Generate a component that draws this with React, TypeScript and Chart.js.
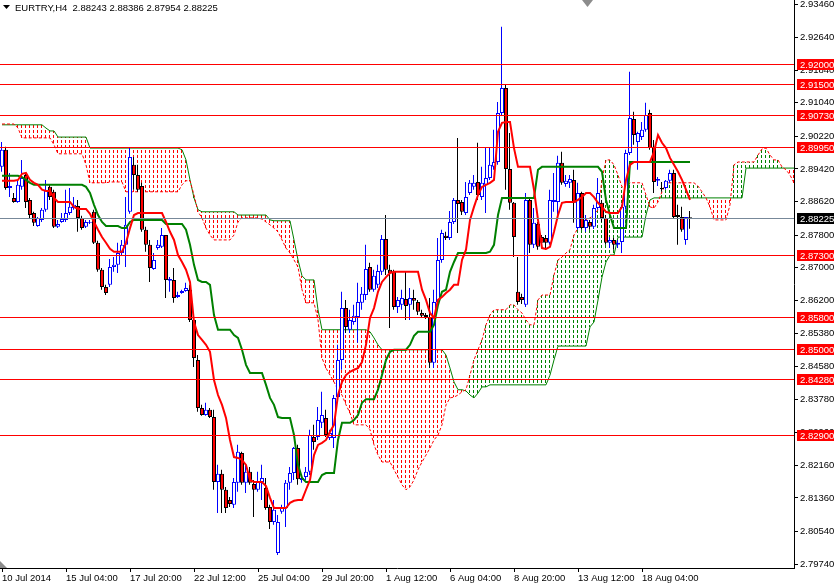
import React, { useEffect, useRef } from 'react';
import { Chart, registerables } from 'chart.js';

Chart.register(...registerables);

const FONT = "'Liberation Sans', Arial, sans-serif";

const symbolTitle = 'EURTRY,H4';
const headerOHLC = ['2.88243', '2.88386', '2.87954', '2.88225'];

const xTickIndex = [0, 16, 32, 48, 64, 80, 96, 112, 128, 144, 160];
const xTickLabels = ['10 Jul 2014', '15 Jul 04:00', '17 Jul 20:00', '22 Jul 12:00', '25 Jul 04:00', '29 Jul 20:00', '1 Aug 12:00', '6 Aug 04:00', '8 Aug 20:00', '13 Aug 12:00', '18 Aug 04:00'];
const yTickValues = [2.9346, 2.9264, 2.9184, 2.9104, 2.9022, 2.8942, 2.8862, 2.878, 2.87, 2.862, 2.8538, 2.8458, 2.8378, 2.8296, 2.8216, 2.8136, 2.8054, 2.7974];
const levelLines = [2.92, 2.915, 2.9073, 2.8995, 2.873, 2.858, 2.85, 2.8428, 2.829];
const bidPrice = 2.88225;

const open = [
  2.8947, 2.8989, 2.8895, 2.8871, 2.8861, 2.8898, 2.8927, 2.8866, 2.8834, 2.8802,
  2.8817, 2.8842, 2.8898, 2.8886, 2.8800, 2.8812, 2.8817, 2.8834, 2.8846, 2.8851,
  2.8822, 2.8800, 2.8810, 2.8837, 2.8761, 2.8695, 2.8653, 2.8658, 2.8702, 2.8707,
  2.8736, 2.8756, 2.8837, 2.8952, 2.8927, 2.8900, 2.8793, 2.8756, 2.8697, 2.8748,
  2.8751, 2.8780, 2.8668, 2.8670, 2.8628, 2.8638, 2.8643, 2.8646, 2.8572, 2.8474,
  2.8356, 2.8339, 2.8352, 2.8334, 2.8175, 2.8195, 2.8156, 2.8131, 2.8119, 2.8173,
  2.8246, 2.8173, 2.8200, 2.8170, 2.8156, 2.8175, 2.8160, 2.8114, 2.8077, 2.8001,
  2.8102, 2.8111, 2.8173, 2.8197, 2.8258, 2.8180, 2.8187, 2.8200, 2.8285, 2.8285,
  2.8320, 2.8332, 2.8283, 2.8283, 2.8383, 2.8474, 2.8601, 2.8548, 2.8567, 2.8579,
  2.8614, 2.8633, 2.8702, 2.8646, 2.8658, 2.8690, 2.8770, 2.8695, 2.8690, 2.8604,
  2.8609, 2.8623, 2.8609, 2.8626, 2.8616, 2.8589, 2.8584, 2.8579, 2.8467, 2.8616,
  2.8719, 2.8778, 2.8773, 2.8812, 2.8866, 2.8861, 2.8834, 2.8883, 2.8898, 2.8910,
  2.8873, 2.8903, 2.8920, 2.8947, 2.8959, 2.9079, 2.9140, 2.8942, 2.8859, 2.8641,
  2.8628, 2.8609, 2.8866, 2.8756, 2.8807, 2.8775, 2.8773, 2.8761, 2.8861, 2.8861,
  2.8957, 2.8905, 2.8908, 2.8915, 2.8797, 2.8883, 2.8797, 2.8812, 2.8800, 2.8846,
  2.8859, 2.8822, 2.8761, 2.8768, 2.8756, 2.8763, 2.8849, 2.8981, 2.9064, 2.9008,
  2.9020, 2.9038, 2.9079, 2.8996, 2.8913, 2.8895, 2.8895, 2.8913, 2.8932, 2.8829,
  2.8824, 2.8768, 2.88243,
];
const high = [
  2.9008, 2.8996, 2.8932, 2.8883, 2.8915, 2.8964, 2.8932, 2.8871, 2.8837, 2.8824,
  2.8846, 2.8915, 2.8903, 2.8891, 2.8817, 2.8834, 2.8891, 2.8895, 2.8873, 2.8866,
  2.8827, 2.8817, 2.8817, 2.8842, 2.8766, 2.8699, 2.8658, 2.8721, 2.8726, 2.8761,
  2.8768, 2.8873, 2.8993, 2.8971, 2.8952, 2.8908, 2.8800, 2.8768, 2.8736, 2.8768,
  2.8797, 2.8780, 2.8677, 2.8699, 2.8641, 2.8646, 2.8663, 2.8658, 2.8577, 2.8486,
  2.8364, 2.8369, 2.8356, 2.8352, 2.8217, 2.8205, 2.8163, 2.8138, 2.8185, 2.8266,
  2.8249, 2.8217, 2.8212, 2.8180, 2.8200, 2.8217, 2.8185, 2.8119, 2.8131, 2.8094,
  2.8119, 2.8180, 2.8212, 2.8261, 2.8266, 2.8192, 2.8212, 2.8303, 2.8315, 2.8359,
  2.8396, 2.8352, 2.8303, 2.8388, 2.8511, 2.8641, 2.8621, 2.8597, 2.8609, 2.8663,
  2.8653, 2.8756, 2.8712, 2.8695, 2.8707, 2.8780, 2.8829, 2.8707, 2.8695, 2.8628,
  2.8646, 2.8690, 2.8650, 2.8646, 2.8621, 2.8597, 2.8589, 2.8626, 2.8646, 2.8773,
  2.8793, 2.8788, 2.8839, 2.8871, 2.9018, 2.8866, 2.8910, 2.8915, 2.8927, 2.9006,
  2.8947, 2.8993, 2.8993, 2.9038, 2.9106, 2.9290, 2.9148, 2.9030, 2.8861, 2.8726,
  2.8636, 2.8883, 2.8871, 2.8846, 2.8812, 2.8780, 2.8780, 2.8891, 2.8932, 2.8974,
  2.8984, 2.8927, 2.8927, 2.8940, 2.8908, 2.8886, 2.8829, 2.8817, 2.8854, 2.8920,
  2.8866, 2.8829, 2.8775, 2.8773, 2.8768, 2.8854, 2.8989, 2.9180, 2.9082, 2.9033,
  2.9057, 2.9104, 2.9087, 2.9013, 2.8922, 2.8910, 2.8915, 2.8940, 2.8940, 2.8854,
  2.8849, 2.8824, 2.88386,
];
const low = [
  2.8935, 2.8891, 2.8873, 2.8859, 2.8859, 2.8891, 2.8846, 2.8822, 2.8802, 2.8800,
  2.8812, 2.8837, 2.8866, 2.8797, 2.8797, 2.8810, 2.8812, 2.8829, 2.8842, 2.8788,
  2.8793, 2.8797, 2.8807, 2.8758, 2.8690, 2.8646, 2.8633, 2.8653, 2.8690, 2.8687,
  2.8731, 2.8702, 2.8832, 2.8891, 2.8886, 2.8788, 2.8739, 2.8665, 2.8695, 2.8744,
  2.8748, 2.8626, 2.8641, 2.8614, 2.8626, 2.8636, 2.8641, 2.8567, 2.8457, 2.8347,
  2.8337, 2.8337, 2.8332, 2.8156, 2.8099, 2.8099, 2.8099, 2.8114, 2.8111, 2.8151,
  2.8168, 2.8148, 2.8168, 2.8089, 2.8151, 2.8131, 2.8107, 2.8060, 2.8070, 2.7996,
  2.8097, 2.8065, 2.8156, 2.8180, 2.8168, 2.8173, 2.8180, 2.8192, 2.8254, 2.8278,
  2.8307, 2.8285, 2.8278, 2.8258, 2.8376, 2.8450, 2.8540, 2.8540, 2.8560, 2.8516,
  2.8597, 2.8621, 2.8641, 2.8641, 2.8650, 2.8682, 2.8682, 2.8552, 2.8597, 2.8589,
  2.8597, 2.8572, 2.8572, 2.8597, 2.8584, 2.8577, 2.8574, 2.8454, 2.8454, 2.8609,
  2.8712, 2.8768, 2.8768, 2.8807, 2.8785, 2.8829, 2.8829, 2.8878, 2.8891, 2.8866,
  2.8866, 2.8834, 2.8915, 2.8940, 2.8952, 2.9074, 2.8891, 2.8842, 2.8726, 2.8609,
  2.8611, 2.8604, 2.8736, 2.8748, 2.8744, 2.8756, 2.8744, 2.8756, 2.8837, 2.8817,
  2.8903, 2.8898, 2.8895, 2.8810, 2.8793, 2.8793, 2.8788, 2.8793, 2.8795, 2.8842,
  2.8812, 2.8756, 2.8748, 2.8744, 2.8748, 2.8736, 2.8842, 2.8976, 2.9001, 2.8940,
  2.9013, 2.9033, 2.8989, 2.8883, 2.8900, 2.8886, 2.8891, 2.8908, 2.8822, 2.8756,
  2.8788, 2.8756, 2.87954,
];
const close = [
  2.8989, 2.8895, 2.8900, 2.8861, 2.8903, 2.8920, 2.8861, 2.8829, 2.8810, 2.8822,
  2.8842, 2.8891, 2.8873, 2.8800, 2.8807, 2.8819, 2.8834, 2.8849, 2.8854, 2.8822,
  2.8797, 2.8812, 2.8812, 2.8761, 2.8695, 2.8653, 2.8638, 2.8702, 2.8707, 2.8736,
  2.8756, 2.8805, 2.8971, 2.8927, 2.8891, 2.8793, 2.8756, 2.8699, 2.8719, 2.8756,
  2.8780, 2.8670, 2.8672, 2.8626, 2.8633, 2.8643, 2.8650, 2.8572, 2.8479, 2.8356,
  2.8339, 2.8352, 2.8334, 2.8175, 2.8195, 2.8156, 2.8111, 2.8121, 2.8175, 2.8249,
  2.8173, 2.8200, 2.8173, 2.8156, 2.8175, 2.8185, 2.8111, 2.8077, 2.8107, 2.8077,
  2.8111, 2.8173, 2.8197, 2.8258, 2.8182, 2.8185, 2.8200, 2.8290, 2.8273, 2.8327,
  2.8339, 2.8290, 2.8295, 2.8381, 2.8474, 2.8601, 2.8555, 2.8572, 2.8582, 2.8616,
  2.8636, 2.8697, 2.8646, 2.8680, 2.8692, 2.8770, 2.8695, 2.8687, 2.8604, 2.8621,
  2.8626, 2.8606, 2.8626, 2.8619, 2.8592, 2.8582, 2.8579, 2.8467, 2.8616, 2.8719,
  2.8785, 2.8773, 2.8812, 2.8866, 2.8856, 2.8837, 2.8873, 2.8908, 2.8908, 2.8878,
  2.8908, 2.8920, 2.8952, 2.8959, 2.9079, 2.9140, 2.8942, 2.8859, 2.8775, 2.8616,
  2.8621, 2.8866, 2.8756, 2.8810, 2.8751, 2.8761, 2.8761, 2.8866, 2.8866, 2.8957,
  2.8908, 2.8913, 2.8917, 2.8859, 2.8883, 2.8797, 2.8817, 2.8800, 2.8846, 2.8883,
  2.8822, 2.8761, 2.8768, 2.8756, 2.8761, 2.8849, 2.8981, 2.9067, 2.9025, 2.9030,
  2.9038, 2.9074, 2.8993, 2.8910, 2.8917, 2.8893, 2.8913, 2.8932, 2.8824, 2.8824,
  2.8793, 2.8824, 2.88225,
];

// Tenkan-sen (red, thick)
const tenkan = [
  2.8913, 2.8913, 2.8913, 2.8913, 2.8915, 2.8930, 2.8932, 2.8915, 2.8908, 2.8903,
  2.8891, 2.8888, 2.8888, 2.8871, 2.8861, 2.8861, 2.8861, 2.8861, 2.8849, 2.8844,
  2.8844, 2.8844, 2.8832, 2.8812, 2.8793, 2.8775, 2.8761, 2.8746, 2.8739, 2.8739,
  2.8739, 2.8761, 2.8797, 2.8829, 2.8834, 2.8834, 2.8834, 2.8834, 2.8834, 2.8834,
  2.8834, 2.8812, 2.8788, 2.8768, 2.8731, 2.8714, 2.8695, 2.8665, 2.8567, 2.8535,
  2.8523, 2.8511, 2.8494, 2.8425, 2.8388, 2.8364, 2.8332, 2.8278, 2.8236, 2.8234,
  2.8229, 2.8217, 2.8180, 2.8175, 2.8175, 2.8175, 2.8165, 2.8136, 2.8111, 2.8111,
  2.8111, 2.8111, 2.8124, 2.8129, 2.8131, 2.8131, 2.8156, 2.8180, 2.8241, 2.8266,
  2.8271, 2.8278, 2.8298, 2.8315, 2.8388, 2.8420, 2.8437, 2.8445, 2.8450, 2.8454,
  2.8469, 2.8511, 2.8577, 2.8601, 2.8641, 2.8665, 2.8677, 2.8687, 2.8690, 2.8690,
  2.8690, 2.8690, 2.8690, 2.8690, 2.8690, 2.8646, 2.8621, 2.8589, 2.8577, 2.8621,
  2.8628, 2.8638, 2.8646, 2.8658, 2.8658, 2.8719, 2.8744, 2.8817, 2.8849, 2.8878,
  2.8898, 2.8903, 2.8908, 2.8915, 2.9033, 2.9055, 2.9057, 2.9057, 2.8993, 2.8947,
  2.8947, 2.8947, 2.8947, 2.8891, 2.8817, 2.8748, 2.8746, 2.8751, 2.8788, 2.8829,
  2.8859, 2.8861, 2.8861, 2.8861, 2.8866, 2.8873, 2.8883, 2.8883, 2.8873, 2.8859,
  2.8849, 2.8837, 2.8834, 2.8834, 2.8834, 2.8849, 2.8915, 2.8952, 2.8959, 2.8959,
  2.8959, 2.8959, 2.8959, 2.8984, 2.9025, 2.9006, 2.8993, 2.8969, 2.8952, 2.8935,
  2.8915, 2.8891, 2.8866,
];

// Kijun-sen (green, thick)
const kijun = [
  2.8925, 2.8925, 2.8925, 2.8925, 2.8925, 2.8922, 2.8915, 2.8908, 2.8903, 2.8903,
  2.8903, 2.8903, 2.8903, 2.8903, 2.8903, 2.8903, 2.8903, 2.8903, 2.8903, 2.8903,
  2.8903, 2.8898, 2.8883, 2.8854, 2.8829, 2.8812, 2.8802, 2.8802, 2.8802, 2.8802,
  2.8797, 2.8797, 2.8812, 2.8817, 2.8817, 2.8817, 2.8817, 2.8817, 2.8817, 2.8817,
  2.8817, 2.8807, 2.8807, 2.8807, 2.8807, 2.8807, 2.8793, 2.8756, 2.8707, 2.8670,
  2.8665, 2.8665, 2.8658, 2.8584, 2.8548, 2.8548, 2.8548, 2.8548, 2.8535, 2.8528,
  2.8499, 2.8462, 2.8442, 2.8442, 2.8442, 2.8442, 2.8413, 2.8381, 2.8364, 2.8334,
  2.8332, 2.8332, 2.8332, 2.8290, 2.8217, 2.8185, 2.8175, 2.8175, 2.8175, 2.8175,
  2.8192, 2.8197, 2.8197, 2.8197, 2.8278, 2.8320, 2.8320, 2.8320, 2.8327, 2.8339,
  2.8369, 2.8378, 2.8378, 2.8378, 2.8401, 2.8437, 2.8474, 2.8494, 2.8499, 2.8499,
  2.8499, 2.8499, 2.8511, 2.8533, 2.8543, 2.8543, 2.8543, 2.8543, 2.8560, 2.8609,
  2.8641, 2.8646, 2.8690, 2.8714, 2.8736, 2.8736, 2.8736, 2.8736, 2.8736, 2.8736,
  2.8736, 2.8736, 2.8739, 2.8756, 2.8829, 2.8871, 2.8871, 2.8871, 2.8871, 2.8871,
  2.8871, 2.8871, 2.8871, 2.8871, 2.8940, 2.8947, 2.8947, 2.8947, 2.8947, 2.8947,
  2.8947, 2.8947, 2.8947, 2.8947, 2.8947, 2.8947, 2.8947, 2.8947, 2.8947, 2.8947,
  2.8935, 2.8866, 2.8829, 2.8797, 2.8797, 2.8797, 2.8797, 2.8959, 2.8959, 2.8959,
  2.8959, 2.8959, 2.8959, 2.8959, 2.8959, 2.8959, 2.8959, 2.8959, 2.8959, 2.8959,
  2.8959, 2.8959, 2.8959,
];

// Senkou span drawn in green (cloud edge), plotted 26 bars ahead
const senkouGreen = [
  2.9050, 2.9050, 2.9050, 2.9050, 2.9050, 2.9050, 2.9050, 2.9050, 2.9050, 2.9050,
  2.9050, 2.9042, 2.9035, 2.9035, 2.9020, 2.9020, 2.9020, 2.9020, 2.9020, 2.9020,
  2.9020, 2.9020, 2.8993, 2.8993, 2.8993, 2.8993, 2.8993, 2.8993, 2.8993, 2.8993,
  2.8993, 2.8993, 2.8993, 2.8993, 2.8993, 2.8993, 2.8993, 2.8993, 2.8993, 2.8993,
  2.8993, 2.8993, 2.8993, 2.8993, 2.8993, 2.8989, 2.8964, 2.8915, 2.8871, 2.8842,
  2.8837, 2.8837, 2.8837, 2.8837, 2.8837, 2.8837, 2.8837, 2.8837, 2.8837, 2.8829,
  2.8829, 2.8829, 2.8829, 2.8829, 2.8829, 2.8829, 2.8829, 2.8817, 2.8815, 2.8815,
  2.8815, 2.8815, 2.8815, 2.8768, 2.8719, 2.8680, 2.8670, 2.8670, 2.8670, 2.8597,
  2.8548, 2.8548, 2.8548, 2.8548, 2.8548, 2.8548, 2.8548, 2.8548, 2.8548, 2.8548,
  2.8548, 2.8548, 2.8543, 2.8528, 2.8511, 2.8499, 2.8499, 2.8499, 2.8499, 2.8499,
  2.8499, 2.8499, 2.8499, 2.8499, 2.8499, 2.8499, 2.8499, 2.8499, 2.8499, 2.8499,
  2.8499, 2.8486, 2.8454, 2.8420, 2.8401, 2.8401, 2.8398, 2.8388, 2.8381, 2.8393,
  2.8408, 2.8408, 2.8413, 2.8413, 2.8413, 2.8413, 2.8413, 2.8413, 2.8413, 2.8413,
  2.8413, 2.8413, 2.8413, 2.8413, 2.8413, 2.8413, 2.8413, 2.8437, 2.8474, 2.8508,
  2.8508, 2.8508, 2.8508, 2.8508, 2.8508, 2.8508, 2.8508, 2.8555, 2.8567, 2.8621,
  2.8677, 2.8714, 2.8731, 2.8731, 2.8775, 2.8775, 2.8775, 2.8775, 2.8775, 2.8775,
  2.8775, 2.8829, 2.8866, 2.8871, 2.8871, 2.8871, 2.8871, 2.8871, 2.8871, 2.8871,
  2.8871, 2.8871, 2.8871, 2.8871, 2.8871, 2.8871, 2.8871, 2.8871, 2.8871, 2.8871,
  2.8871, 2.8871, 2.8871, 2.8871, 2.8871, 2.8871, 2.8944, 2.8944, 2.8944, 2.8944,
  2.8944, 2.8944, 2.8944, 2.8944, 2.8944, 2.8944, 2.8944, 2.8944, 2.8944,
];

// Senkou span drawn in red dots (cloud edge), plotted 26 bars ahead
const senkouRed = [
  2.9052, 2.9052, 2.9052, 2.9052, 2.9042, 2.9018, 2.9018, 2.9018, 2.9018, 2.9018,
  2.9018, 2.9018, 2.9018, 2.9001, 2.8979, 2.8979, 2.8979, 2.8979, 2.8979, 2.8979,
  2.8979, 2.8952, 2.8908, 2.8908, 2.8908, 2.8908, 2.8908, 2.8910, 2.8910, 2.8910,
  2.8910, 2.8886, 2.8886, 2.8886, 2.8886, 2.8886, 2.8886, 2.8886, 2.8886, 2.8886,
  2.8886, 2.8886, 2.8886, 2.8886, 2.8886, 2.8903, 2.8913, 2.8913, 2.8878, 2.8837,
  2.8822, 2.8797, 2.8780, 2.8768, 2.8768, 2.8768, 2.8768, 2.8768, 2.8780, 2.8812,
  2.8822, 2.8822, 2.8822, 2.8822, 2.8822, 2.8819, 2.8812, 2.8805, 2.8797, 2.8788,
  2.8768, 2.8748, 2.8736, 2.8719, 2.8702, 2.8646, 2.8614, 2.8614, 2.8614, 2.8572,
  2.8479, 2.8454, 2.8437, 2.8420, 2.8401, 2.8388, 2.8364, 2.8344, 2.8315, 2.8315,
  2.8315, 2.8315, 2.8303, 2.8266, 2.8241, 2.8224, 2.8224, 2.8224, 2.8205, 2.8187,
  2.8168, 2.8156, 2.8163, 2.8180, 2.8205, 2.8224, 2.8241, 2.8258, 2.8278, 2.8290,
  2.8315, 2.8364, 2.8381, 2.8383, 2.8388, 2.8396, 2.8401, 2.8437, 2.8474, 2.8499,
  2.8523, 2.8560, 2.8584, 2.8597, 2.8597, 2.8597, 2.8597, 2.8609, 2.8609, 2.8597,
  2.8589, 2.8572, 2.8560, 2.8560, 2.8621, 2.8633, 2.8633, 2.8633, 2.8682, 2.8719,
  2.8726, 2.8736, 2.8744, 2.8780, 2.8797, 2.8812, 2.8817, 2.8822, 2.8829, 2.8842,
  2.8915, 2.8964, 2.8964, 2.8952, 2.8927, 2.8898, 2.8895, 2.8908, 2.8908, 2.8908,
  2.8908, 2.8878, 2.8849, 2.8846, 2.8861, 2.8886, 2.8908, 2.8908, 2.8908, 2.8908,
  2.8908, 2.8908, 2.8908, 2.8908, 2.8900, 2.8886, 2.8871, 2.8849, 2.8817, 2.8817,
  2.8817, 2.8817, 2.8854, 2.8952, 2.8959, 2.8959, 2.8959, 2.8959, 2.8959, 2.8976,
  2.8991, 2.8993, 2.8976, 2.8964, 2.8964, 2.8947, 2.8940, 2.8927, 2.8908,
];

// dotted vertical hatch between the two senkou spans, one column per bar
const cloudHatchPlugin = {
  id: 'cloudHatch',
  beforeDatasetsDraw(chart: any) {
    const { ctx, chartArea, scales } = chart;
    const xs = scales.x;
    const ys = scales.y;
    ctx.save();
    ctx.beginPath();
    ctx.rect(chartArea.left, chartArea.top, chartArea.right - chartArea.left, chartArea.bottom - chartArea.top);
    ctx.clip();
    for (let i = 0; i < senkouGreen.length; i++) {
      const g = senkouGreen[i];
      const r = senkouRed[i];
      if (g === r) continue;
      const px = Math.round(xs.getPixelForValue(i)) - 1;
      const yTop = Math.round(ys.getPixelForValue(Math.max(g, r)));
      const yBot = Math.round(ys.getPixelForValue(Math.min(g, r)));
      ctx.fillStyle = r > g ? '#008000' : '#ff0000';
      for (let y = Math.floor(yTop / 5) * 5; y < yBot; y += 5) {
        const a = Math.max(y, yTop);
        const b = Math.min(y + 3, yBot);
        if (b > a) ctx.fillRect(px, a, 1, b - a);
      }
    }
    ctx.restore();
  },
};

const overlayPlugin = {
  id: 'mt4Overlay',
  afterDraw(chart: any) {
    const { ctx, chartArea, scales } = chart;
    const ys = scales.y;
    ctx.save();
    ctx.lineWidth = 1;
    ctx.strokeStyle = '#ff0000';
    for (const lv of levelLines) {
      const py = Math.round(ys.getPixelForValue(lv)) + 0.5;
      ctx.beginPath();
      ctx.moveTo(chartArea.left, py);
      ctx.lineTo(chartArea.right, py);
      ctx.stroke();
    }
    const pb = Math.round(ys.getPixelForValue(bidPrice)) + 0.5;
    ctx.strokeStyle = '#778899';
    ctx.beginPath();
    ctx.moveTo(chartArea.left, pb);
    ctx.lineTo(chartArea.right, pb);
    ctx.stroke();

    ctx.font = `9.5px ${FONT}`;
    ctx.textBaseline = 'middle';
    ctx.textAlign = 'left';
    const boxX = chartArea.right + 3;
    for (const lv of levelLines) {
      const py = Math.round(ys.getPixelForValue(lv));
      ctx.fillStyle = '#ff0000';
      ctx.fillRect(boxX, py - 5, chart.width - boxX, 11);
      ctx.fillStyle = '#ffffff';
      ctx.fillText(lv.toFixed(5), boxX + 3, py + 1);
    }
    const pbi = Math.round(ys.getPixelForValue(bidPrice));
    ctx.fillStyle = '#000000';
    ctx.fillRect(boxX, pbi - 5, chart.width - boxX, 11);
    ctx.fillStyle = '#ffffff';
    ctx.fillText(bidPrice.toFixed(5), boxX + 3, pbi + 1);

    ctx.fillStyle = '#000000';
    ctx.beginPath();
    ctx.moveTo(3, 5);
    ctx.lineTo(10, 5);
    ctx.lineTo(6.5, 9);
    ctx.closePath();
    ctx.fill();
    ctx.textBaseline = 'alphabetic';
    ctx.fillText(`${symbolTitle}  ${headerOHLC.join(' ')}`, 15, 11);

    ctx.fillStyle = '#8c8c8c';
    ctx.beginPath();
    ctx.moveTo(582, 0);
    ctx.lineTo(593, 0);
    ctx.lineTo(587.5, 7);
    ctx.closePath();
    ctx.fill();
    ctx.beginPath();
    ctx.moveTo(chartArea.left, chartArea.bottom - 7);
    ctx.lineTo(chartArea.left + 7, chartArea.bottom);
    ctx.lineTo(chartArea.left, chartArea.bottom);
    ctx.closePath();
    ctx.fill();
    ctx.restore();
  },
};

export default function App() {
  const ref = useRef<HTMLCanvasElement>(null);
  useEffect(() => {
    document.body.style.margin = '0';
    const canvas = ref.current;
    if (!canvas) return;
    const idx = close.map((_, i) => i);
    const cloudIdx = senkouGreen.map((_, i) => i);
    const bull = idx.map((i) => close[i] >= open[i]);

    const chart = new Chart(canvas, {
      type: 'bar',
      data: {
        datasets: [
          {
            type: 'line',
            label: 'SpanGreen',
            data: cloudIdx.map((i) => ({ x: i, y: senkouGreen[i] })),
            borderColor: '#008000',
            borderWidth: 1,
            pointRadius: 0,
            tension: 0,
            fill: false,
            order: 10,
          } as any,
          {
            type: 'line',
            label: 'SpanRed',
            data: cloudIdx.map((i) => ({ x: i, y: senkouRed[i] })),
            borderColor: '#ff0000',
            borderWidth: 1,
            borderDash: [3, 2],
            pointRadius: 0,
            tension: 0,
            fill: false,
            order: 9,
          } as any,
          {
            type: 'bar',
            label: 'Wicks',
            data: idx.map((i) => ({ x: i - 0.125, y: [low[i], high[i]] })),
            backgroundColor: idx.map((i) => (bull[i] ? '#0000ff' : '#000000')),
            borderWidth: 0,
            barThickness: 1,
            grouped: false,
            inflateAmount: 0,
            order: 4,
          } as any,
          {
            type: 'bar',
            label: 'Bodies',
            data: idx.map((i) => ({ x: i, y: [open[i], close[i]] })),
            backgroundColor: idx.map((i) => (bull[i] ? '#ffffff' : '#ff0000')),
            borderColor: idx.map((i) => (bull[i] ? '#0000ff' : '#000000')),
            borderWidth: 1,
            borderSkipped: false,
            barThickness: 4,
            grouped: false,
            inflateAmount: 0,
            order: 3,
          } as any,
          {
            type: 'line',
            label: 'Kijun',
            data: idx.map((i) => ({ x: i, y: kijun[i] })),
            borderColor: '#008000',
            borderWidth: 2,
            pointRadius: 0,
            tension: 0,
            fill: false,
            order: 2,
          } as any,
          {
            type: 'line',
            label: 'Tenkan',
            data: idx.map((i) => ({ x: i, y: tenkan[i] })),
            borderColor: '#ff0000',
            borderWidth: 2,
            pointRadius: 0,
            tension: 0,
            fill: false,
            order: 1,
          } as any,
        ],
      },
      options: {
        responsive: false,
        animation: false,
        devicePixelRatio: 1,
        events: [],
        layout: { padding: 0 },
        plugins: {
          legend: { display: false },
          tooltip: { enabled: false },
          title: { display: false },
        },
        scales: {
          x: {
            type: 'linear',
            bounds: 'data',
            min: -0.5,
            max: 198,
            offset: false,
            grid: { display: true, drawOnChartArea: false, drawTicks: true, tickLength: 4, color: '#000000', offset: false },
            border: { display: true, color: '#000000', width: 1 },
            ticks: {
              autoSkip: false,
              maxRotation: 0,
              minRotation: 0,
              align: 'start',
              padding: 1,
              color: '#000000',
              font: { family: FONT, size: 9.5 },
              callback: (v: any) => {
                const k = xTickIndex.indexOf(Number(v));
                return k >= 0 ? xTickLabels[k] : '';
              },
            },
            afterBuildTicks: (s: any) => {
              s.ticks = xTickIndex.map((v) => ({ value: v }));
            },
            afterFit: (s: any) => {
              s.height = 17;
              s.paddingLeft = 0;
              s.paddingRight = 0;
            },
          },
          y: {
            type: 'linear',
            position: 'right',
            bounds: 'data',
            min: 2.79643,
            max: 2.93558,
            grid: { display: true, drawOnChartArea: false, drawTicks: true, tickLength: 4, color: '#000000' },
            border: { display: true, color: '#000000', width: 1 },
            ticks: {
              autoSkip: false,
              padding: 2,
              color: '#000000',
              font: { family: FONT, size: 9.5 },
              callback: (v: any) => Number(v).toFixed(5),
            },
            afterBuildTicks: (s: any) => {
              s.ticks = yTickValues.map((v) => ({ value: v }));
            },
            afterFit: (s: any) => {
              s.width = 40;
              s.paddingTop = 0;
              s.paddingBottom = 0;
            },
          },
        },
      } as any,
      plugins: [cloudHatchPlugin, overlayPlugin],
    });
    return () => chart.destroy();
  }, []);
  return <canvas ref={ref} width={834} height={585} style={{ display: 'block' }} />;
}
